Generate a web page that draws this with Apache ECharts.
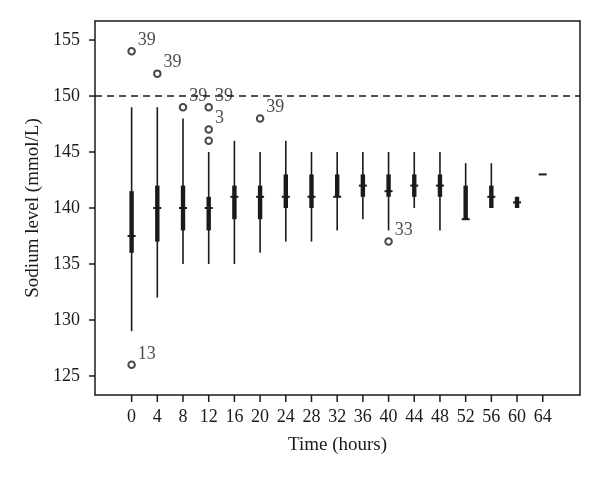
<!DOCTYPE html>
<html>
<head>
<meta charset="utf-8">
<script src="https://cdn.jsdelivr.net/npm/echarts@6/dist/echarts.min.js"></script>
<style>html,body{margin:0;padding:0;background:#fff;}#c{width:600px;height:480px;}</style>
</head>
<body>
<div id="c"></div>
<script>
// Time points (hours)
const times = [0, 4, 8, 12, 16, 20, 24, 28, 32, 36, 40, 44, 48, 52, 56, 60, 64];
// Box statistics per time point
const whiskerLow  = [129, 132, 135, 135, 135, 136, 137, 137, 138, 139, 138, 140, 138, 139, 140, 140, 143];
const q1          = [136, 137, 138, 138, 139, 139, 140, 140, 141, 141, 141, 141, 141, 139, 140, 140, 143];
const medians     = [137.5, 140, 140, 140, 141, 141, 141, 141, 141, 142, 141.5, 142, 142, 139, 141, 140.5, 143];
const q3          = [141.5, 142, 142, 141, 142, 142, 143, 143, 143, 143, 143, 143, 143, 142, 142, 141, 143];
const whiskerHigh = [149, 149, 148, 145, 146, 145, 146, 145, 145, 145, 145, 145, 145, 144, 144, 141, 143];
// Outliers: time, value, label
const outlierTimes  = [0, 4, 8, 12, 12, 12, 20, 0, 40];
const outlierValues = [154, 152, 149, 149, 147, 146, 148, 126, 137];
const outlierLabels = ['39', '39', '39', '39', '3', '', '39', '13', '33'];
// Axis ticks
const xTicks = [0, 4, 8, 12, 16, 20, 24, 28, 32, 36, 40, 44, 48, 52, 56, 60, 64];
const yTicks = [125, 130, 135, 140, 145, 150, 155];
const referenceLevel = 150;

const boxData = times.map((t, i) => [t, whiskerLow[i], q1[i], medians[i], q3[i], whiskerHigh[i]]);
const outData = outlierTimes.map((t, i) => [t, outlierValues[i], outlierLabels[i]]);

const ink = '#1a1a1a';
const font = 'Liberation Serif';
const X_MIN = -5.7, X_MAX = 69.8, Y_MIN = 123.3, Y_MAX = 156.7;
const xTickData = xTicks.map(v => [v, Y_MIN]);
const yTickData = yTicks.map(v => [X_MIN, v]);

const chart = echarts.init(document.getElementById('c'));
chart.setOption({
  animation: false,
  grid: {left: 95, right: 20, top: 21, bottom: 85},
  xAxis: [{
    type: 'value', min: X_MIN, max: X_MAX, position: 'bottom',
    name: 'Time (hours)', nameLocation: 'middle', nameGap: 41,
    nameTextStyle: {fontFamily: font, fontSize: 19, color: ink},
    axisLine: {show: true, onZero: false, lineStyle: {color: ink, width: 1.5}},
    splitLine: {show: false},
    axisTick: {show: false},
    axisLabel: {fontFamily: font, fontSize: 18, color: ink, margin: 13, customValues: xTicks}
  }, {
    type: 'value', min: X_MIN, max: X_MAX, position: 'top',
    axisLine: {show: true, onZero: false, lineStyle: {color: ink, width: 1.5}},
    splitLine: {show: false},
    axisTick: {show: false}, axisLabel: {show: false}
  }],
  yAxis: [{
    type: 'value', min: Y_MIN, max: Y_MAX, position: 'left',
    name: 'Sodium level (mmol/L)', nameLocation: 'middle', nameGap: 52,
    nameTextStyle: {fontFamily: font, fontSize: 19, color: ink},
    axisLine: {show: true, onZero: false, lineStyle: {color: ink, width: 1.5}},
    splitLine: {show: false},
    axisTick: {show: false},
    axisLabel: {fontFamily: font, fontSize: 18, color: ink, margin: 15, customValues: yTicks}
  }, {
    type: 'value', min: Y_MIN, max: Y_MAX, position: 'right',
    axisLine: {show: true, onZero: false, lineStyle: {color: ink, width: 1.5}},
    splitLine: {show: false},
    axisTick: {show: false}, axisLabel: {show: false}
  }],
  series: [
    {
      // x-axis tick marks, placed through the axis scale
      type: 'custom', data: xTickData, clip: false, silent: true,
      encode: {x: 0, y: 1},
      renderItem: function (params, api) {
        const p = api.coord([api.value(0), api.value(1)]);
        return {type: 'line', shape: {x1: p[0], y1: p[1], x2: p[0], y2: p[1] + 7}, style: {stroke: ink, lineWidth: 1.5}};
      }
    },
    {
      // y-axis tick marks, placed through the axis scale
      type: 'custom', data: yTickData, clip: false, silent: true,
      encode: {x: 0, y: 1},
      renderItem: function (params, api) {
        const p = api.coord([api.value(0), api.value(1)]);
        return {type: 'line', shape: {x1: p[0] - 6, y1: p[1], x2: p[0], y2: p[1]}, style: {stroke: ink, lineWidth: 1.5}};
      }
    },
    {
      type: 'custom',
      data: boxData,
      encode: {x: 0, y: [1, 2, 3, 4, 5]},
      renderItem: function (params, api) {
        const x = api.value(0);
        const pLow = api.coord([x, api.value(1)]);
        const pQ1 = api.coord([x, api.value(2)]);
        const pMed = api.coord([x, api.value(3)]);
        const pQ3 = api.coord([x, api.value(4)]);
        const pHigh = api.coord([x, api.value(5)]);
        const cx = pLow[0];
        const children = [];
        if (pLow[1] - pHigh[1] > 0.5) {
          children.push({type: 'line', shape: {x1: cx, y1: pLow[1], x2: cx, y2: pHigh[1]}, style: {stroke: ink, lineWidth: 1.6}});
        }
        if (pQ1[1] - pQ3[1] > 0.5) {
          children.push({type: 'rect', shape: {x: cx - 2.2, y: pQ3[1], width: 4.4, height: pQ1[1] - pQ3[1]}, style: {fill: ink}});
        }
        children.push({type: 'line', shape: {x1: cx - 4, y1: pMed[1], x2: cx + 4, y2: pMed[1]}, style: {stroke: ink, lineWidth: 2}});
        return {type: 'group', children: children};
      },
      z: 3
    },
    {
      type: 'scatter',
      data: outData,
      symbol: 'emptyCircle',
      symbolSize: 6.5,
      itemStyle: {color: ink, borderColor: ink, borderWidth: 1.5},
      label: {
        show: true, position: 'right', distance: 2, offset: [0, -11],
        fontFamily: font, fontSize: 18, color: ink,
        formatter: function (p) { return p.data[2]; }
      },
      markLine: {
        silent: true, symbol: ['none', 'none'],
        label: {show: false},
        lineStyle: {color: ink, type: [7, 5], width: 1.5},
        data: [{yAxis: referenceLevel}]
      },
      z: 4
    }
  ]
});
</script>
</body>
</html>
